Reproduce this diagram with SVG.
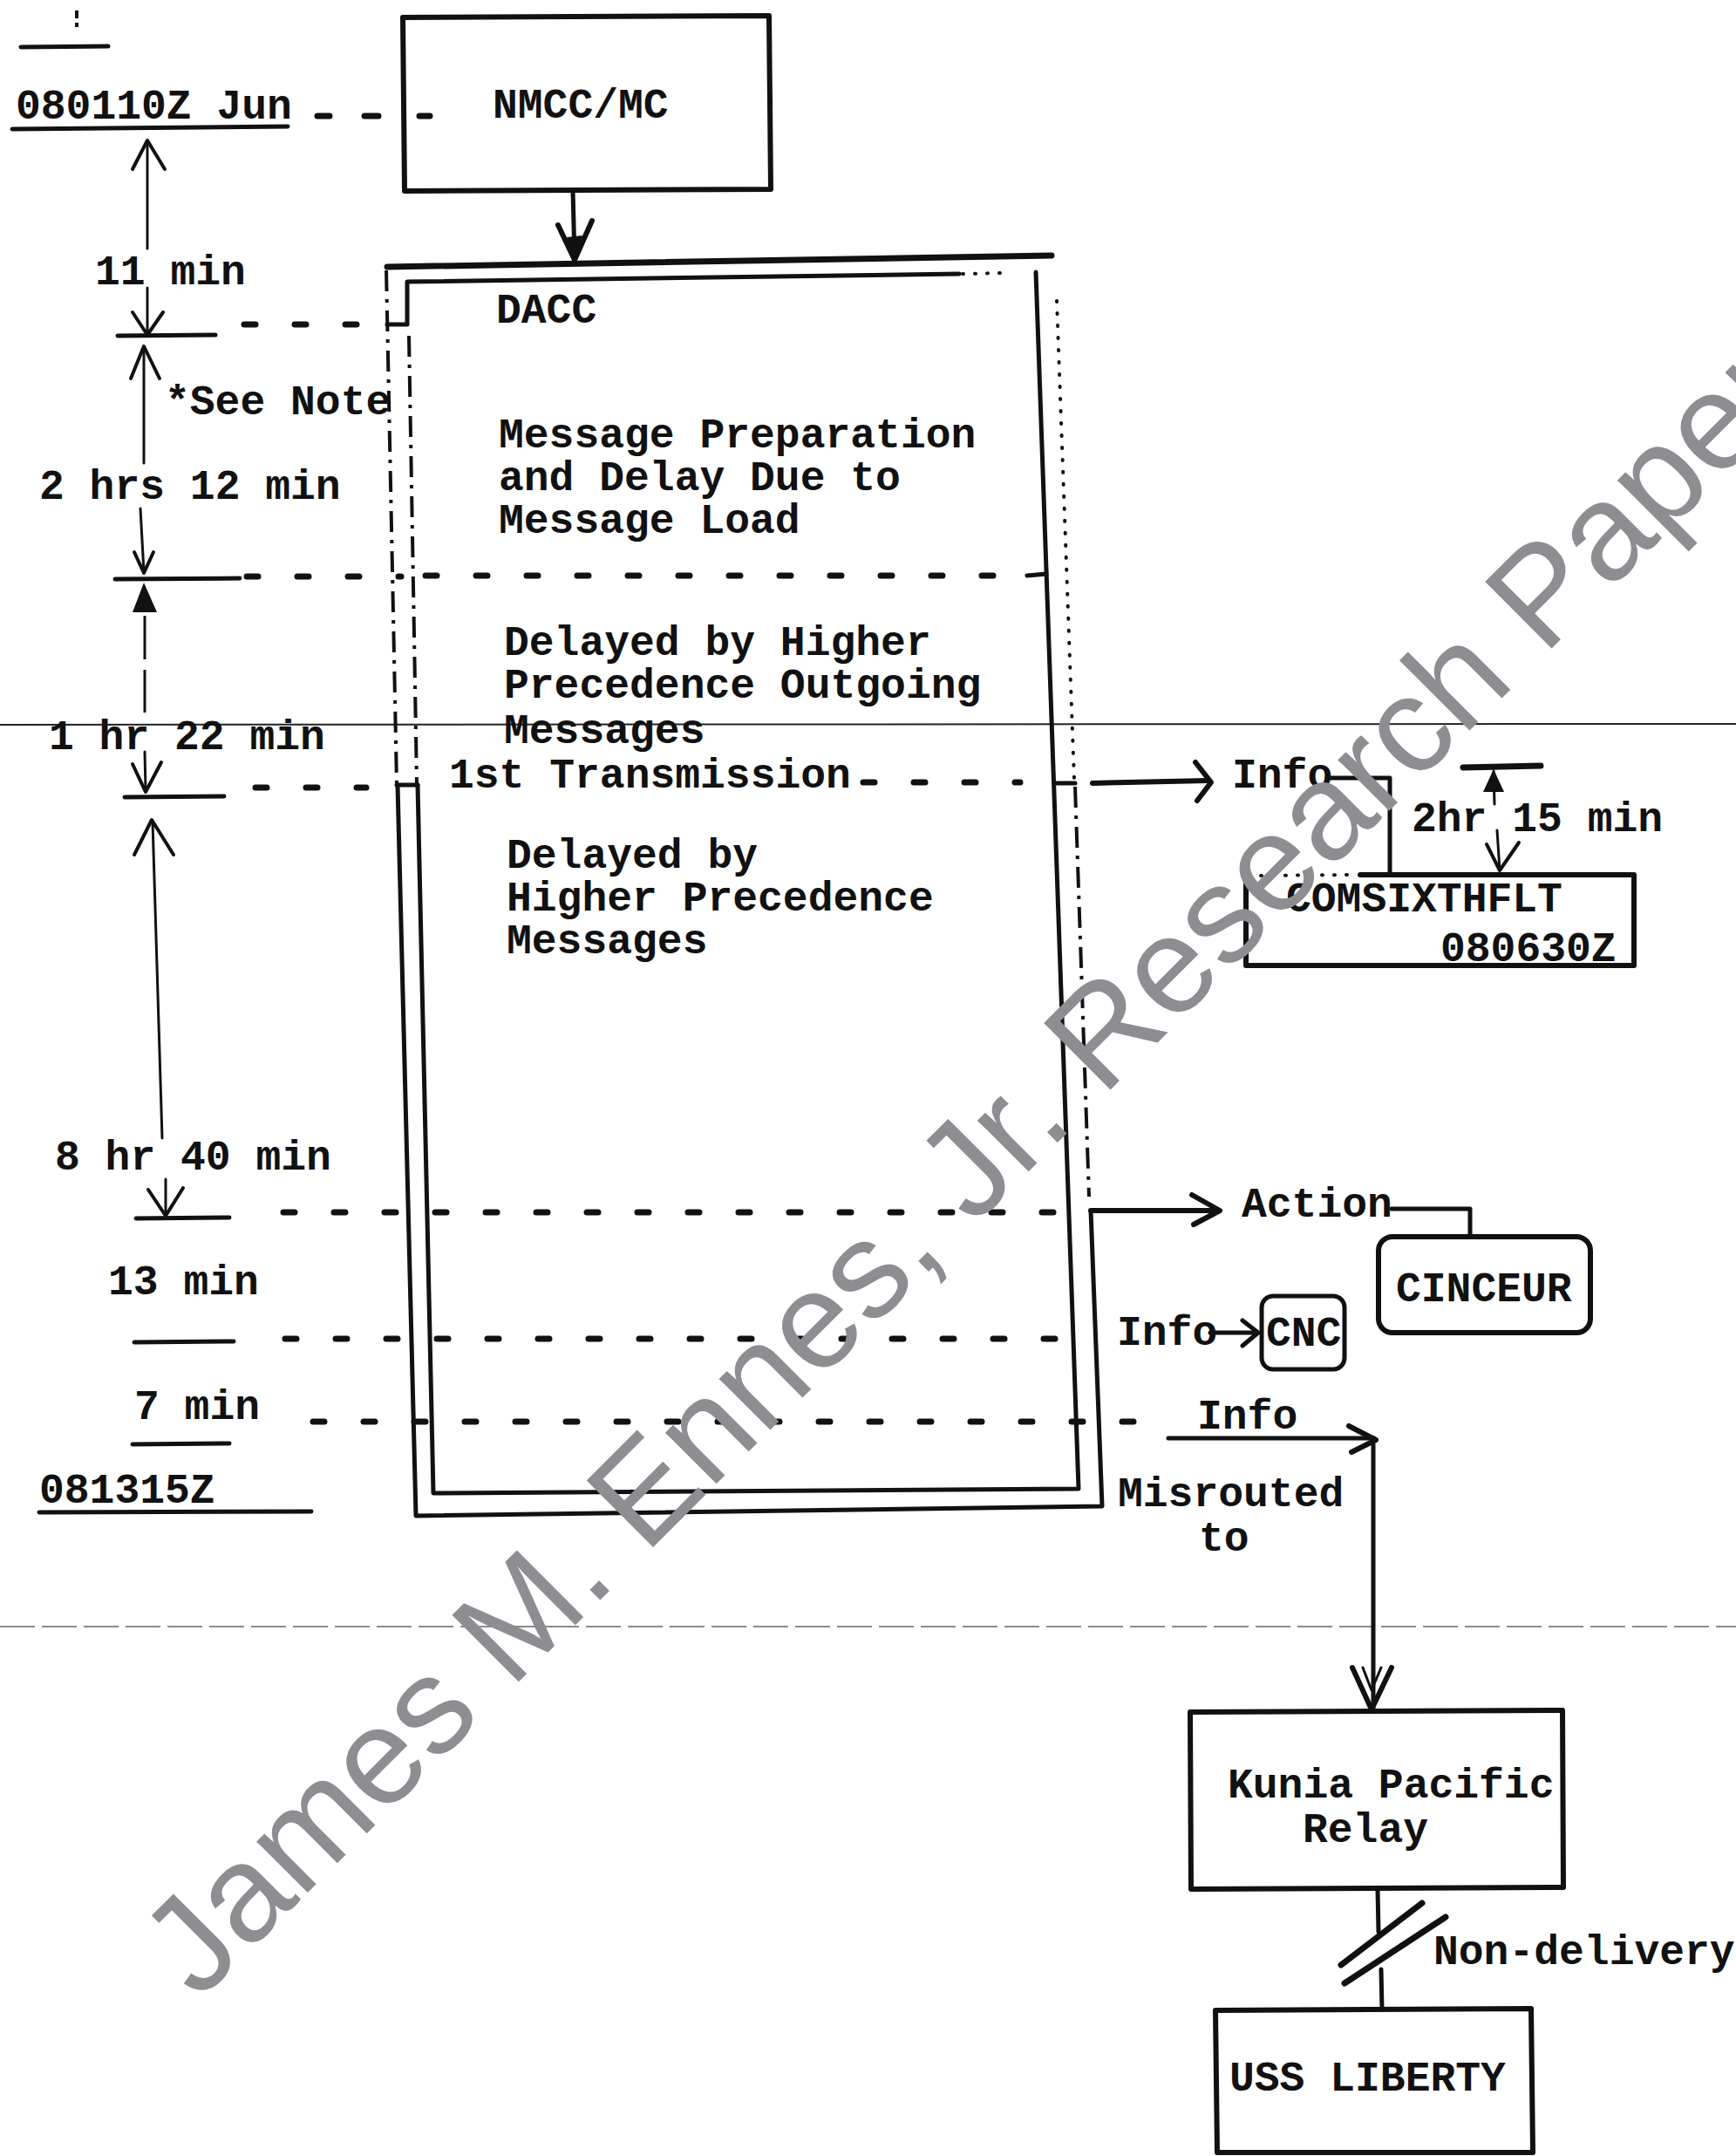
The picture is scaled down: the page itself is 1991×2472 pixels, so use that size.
<svg xmlns="http://www.w3.org/2000/svg" width="1991" height="2472" viewBox="0 0 1991 2472">
<defs>
<style>
.t{font-family:"Liberation Mono","DejaVu Sans Mono",monospace;font-size:48px;font-weight:bold;fill:#111}
.s{stroke:#111;fill:none;stroke-linecap:round;stroke-linejoin:round}
.w7{stroke-width:7}
.w6{stroke-width:6}
.w5{stroke-width:5}
.w4{stroke-width:4}
.w3{stroke-width:3}
.dash{stroke:#111;fill:none;stroke-width:7;stroke-linecap:round;stroke-dasharray:13 45}
.dd{stroke:#111;fill:none;stroke-width:4;stroke-dasharray:24 9 4 9}
.dot{stroke:#111;fill:none;stroke-width:4;stroke-linecap:round;stroke-dasharray:1 13}
.wm{font-family:"Liberation Sans",Arial,sans-serif;font-size:157px;fill:#8d8d92}
</style>
</defs>
<rect width="1991" height="2472" fill="#fff"/>

<g id="scan-lines">
<line x1="0" y1="831" x2="1991" y2="830" stroke="#222" stroke-width="2"/>
<line x1="0" y1="1865" x2="1991" y2="1865" stroke="#666" stroke-width="1.5" stroke-dasharray="40 8"/>
</g>

<g id="timeline">
<rect x="86" y="12" width="4" height="9" fill="#111"/>
<rect x="86" y="26" width="4" height="5" fill="#111"/>
<line class="s w5" x1="24" y1="54" x2="124" y2="53"/>
<text class="t" x="18" y="136">080110Z Jun</text>
<line class="s w5" x1="14" y1="148" x2="330" y2="145"/>
<path class="s w7" d="M364,133h14 M418,133h16 M481,133h12"/>

<path class="s w3" d="M169,162V285"/>
<path class="s w4" d="M152,194L169,161L189,194"/>
<text class="t" x="109" y="326">11 min</text>
<path class="s w3" d="M169,330V382"/>
<path class="s w4" d="M152,358L169,384L187,358"/>
<line class="s w5" x1="135" y1="385" x2="247" y2="384"/>
<line class="dash" x1="280" y1="372" x2="440" y2="372"/>

<path class="s w4" d="M150,434L165,397L183,434"/>
<path class="s w3" d="M165,398V531"/>
<text class="t" x="189" y="475">*See Note</text>
<text class="t" x="45" y="572">2 hrs 12 min</text>
<path class="s w3" d="M161,583L165,656"/>
<path class="s w4" d="M154,633L165,657L176,633"/>
<line class="s w5" x1="132" y1="664" x2="275" y2="663"/>
<line class="dash" x1="283" y1="661" x2="460" y2="661"/>
<polygon points="165,668 152,702 180,702" fill="#111"/>
<line x1="166" y1="706" x2="166" y2="817" stroke="#111" stroke-width="3" stroke-dasharray="50 12"/>

<text class="t" x="56" y="859">1 hr 22 min</text>
<path class="s w3" d="M166,862L167,906"/>
<path class="s w4" d="M152,876L167,908L185,874"/>
<line class="s w5" x1="143" y1="914" x2="257" y2="913"/>
<line class="dash" x1="293" y1="903" x2="420" y2="903"/>

<path class="s w4" d="M154,980L174,940L199,980"/>
<path class="s w3" d="M175,942L186,1305"/>
<text class="t" x="63" y="1341">8 hr 40 min</text>
<path class="s w3" d="M190,1352V1392"/>
<path class="s w4" d="M170,1364L190,1394L210,1362"/>
<line class="s w5" x1="156" y1="1397" x2="263" y2="1396"/>
<line class="dash" x1="325" y1="1390" x2="1212" y2="1390"/>

<text class="t" x="124" y="1484">13 min</text>
<line class="s w5" x1="154" y1="1539" x2="268" y2="1538"/>
<line class="dash" x1="327" y1="1535" x2="1228" y2="1535"/>

<text class="t" x="154" y="1627">7 min</text>
<line class="dash" x1="359" y1="1630" x2="1305" y2="1630"/>
<line class="s w5" x1="152" y1="1656" x2="263" y2="1655"/>
<text class="t" x="45" y="1723">081315Z</text>
<line class="s w5" x1="45" y1="1734" x2="357" y2="1733"/>
</g>

<g id="nmcc">
<path class="s w6" d="M462,20L882,18L884,217L464,219Z"/>
<text class="t" x="565" y="135">NMCC/MC</text>
</g>

<g id="dacc">
<line class="s w7" x1="444" y1="306" x2="1206" y2="293"/>
<path class="s w5" d="M444,372H467V323L1100,314"/>
<line class="dot" x1="1104" y1="314" x2="1150" y2="313"/>
<line class="dd" x1="443" y1="310" x2="455" y2="900"/>
<line class="dd" x1="469" y1="385" x2="478" y2="900"/>
<line class="s w5" x1="455" y1="900" x2="479" y2="900"/>
<path class="s w5" d="M456,900L477,1738L1264,1727L1251,1388"/>
<path class="s w5" d="M479,900L497,1712L1237,1707L1188,312"/>
<line class="dash" x1="488" y1="660" x2="1176" y2="660"/>
<line class="s w5" x1="1178" y1="660" x2="1200" y2="658"/>
<line class="dot" x1="1212" y1="345" x2="1232" y2="894"/>
<line class="s w5" x1="1210" y1="898" x2="1233" y2="898"/>
<line class="dd" x1="1233" y1="902" x2="1249" y2="1372"/>
<line class="dash" x1="990" y1="897" x2="1170" y2="897"/>
<text class="t" x="569" y="370">DACC</text>
<text class="t" x="572" y="513">Message Preparation</text>
<text class="t" x="572" y="562">and Delay Due to</text>
<text class="t" x="572" y="611">Message Load</text>
<text class="t" x="578" y="751">Delayed by Higher</text>
<text class="t" x="578" y="800">Precedence Outgoing</text>
<text class="t" x="578" y="852">Messages</text>
<text class="t" x="515" y="903">1st Transmission</text>
<text class="t" x="581" y="995">Delayed by</text>
<text class="t" x="581" y="1044">Higher Precedence</text>
<text class="t" x="581" y="1093">Messages</text>
</g>

<g id="comsixthflt">
<path class="s w6" d="M1560,1003H1874V1107H1429V1008"/>
<line class="dot" x1="1432" y1="1004" x2="1556" y2="1003" stroke-width="6"/>
<text class="t" x="1475" y="1045">COMSIXTHFLT</text>
<text class="t" x="1652" y="1102">080630Z</text>
</g>

<g id="cinceur">
<rect class="s w6" x="1581" y="1418" width="243" height="110" rx="16"/>
<text class="t" x="1601" y="1492">CINCEUR</text>
</g>

<g id="cnc">
<rect class="s w5" x="1447" y="1486" width="95" height="84" rx="13"/>
<text class="t" x="1452" y="1543">CNC</text>
</g>

<g id="kunia">
<path class="s w6" d="M1365,1963L1792,1961L1793,2164L1366,2166Z"/>
<text class="t" x="1408" y="2061">Kunia Pacific</text>
<text class="t" x="1494" y="2112">Relay</text>
</g>

<g id="uss-liberty">
<path class="s w6" d="M1394,2305L1756,2303L1758,2468L1396,2468Z"/>
<text class="t" x="1410" y="2397">USS LIBERTY</text>
</g>

<g id="connectors">
<path class="s w5" d="M657,218L659,297"/>
<path class="s w6" d="M640,258L659,298L679,253"/>
<polygon points="650,272 659,298 668,270" fill="#111"/>

<path class="s w6" d="M1253,898L1385,895"/>
<path class="s w6" d="M1371,874L1389,897L1373,918"/>
<text class="t" x="1413" y="903">Info</text>
<path class="s w5" d="M1522,892H1594V1003"/>
<line class="s w7" x1="1678" y1="880" x2="1767" y2="878"/>
<path class="s w3" d="M1713,884L1714,922"/>
<polygon points="1713,882 1701,908 1725,908" fill="#111"/>
<text class="t" x="1619" y="953">2hr 15 min</text>
<path class="s w3" d="M1717,952L1720,998"/>
<path class="s w4" d="M1705,968L1720,998L1742,966"/>

<path class="s w6" d="M1251,1388H1395"/>
<path class="s w6" d="M1367,1370L1399,1388L1369,1404"/>
<text class="t" x="1424" y="1395">Action</text>
<path class="s w5" d="M1596,1386H1686V1418"/>

<text class="t" x="1281" y="1542">Info</text>
<path class="s w5" d="M1388,1528H1440"/>
<path class="s w5" d="M1425,1514L1443,1528L1425,1543"/>

<text class="t" x="1373" y="1638">Info</text>
<path class="s w5" d="M1340,1649H1576"/>
<path class="s w6" d="M1547,1635L1578,1651L1550,1665"/>
<path class="s w5" d="M1575,1656V1958"/>
<path class="s w6" d="M1551,1912L1573,1960L1596,1912"/>
<path class="s w3" d="M1563,1912L1573,1938L1584,1912"/>
<text class="t" x="1282" y="1727">Misrouted</text>
<text class="t" x="1375" y="1778">to</text>

<path class="s w5" d="M1580,2166L1581,2215"/>
<path class="s w5" d="M1584,2258L1585,2304"/>
<path class="s w7" d="M1538,2253L1631,2182"/>
<path class="s w7" d="M1542,2274L1658,2198"/>
<text class="t" x="1644" y="2252">Non-delivery</text>
</g>

<g id="watermark">
<text class="wm" x="228" y="2295" transform="rotate(-45 228 2295)">James M. Ennes, Jr. Research Paper</text>
</g>
</svg>
